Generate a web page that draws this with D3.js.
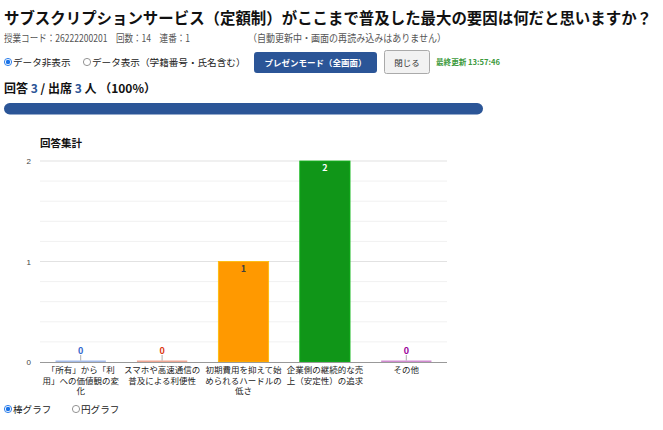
<!DOCTYPE html>
<html lang="ja">
<head>
  <meta charset="UTF-8">
  <title>回答集計</title>
  <script src="https://d3js.org/d3.v7.min.js"></script>
  <style>
    body { margin: 0; background: #fff; }
    svg { display: block; font-family: "Noto Sans CJK JP", "Noto Sans", sans-serif; }
    .grid-minor { stroke: #f1f1f1; stroke-width: 1px; }
    .grid-major { stroke: #e2e2e2; stroke-width: 1.2px; }
    .baseline { stroke: #999; stroke-width: 1px; }
    .ytick { font-size: 8px; fill: #444; text-anchor: end; }
    .xlabel { font-size: 8.5px; fill: #222; text-anchor: middle; }
    .ann { font-size: 9px; font-weight: bold; text-anchor: middle; }
  </style>
</head>
<body>
  <div id="chart"></div>

  <script>
    // data
    const categories = [
      "「所有」から「利\n用」への価値観の変\n化",
      "スマホや高速通信の\n普及による利便性",
      "初期費用を抑えて始\nめられるハードルの\n低さ",
      "企業側の継続的な売\n上（安定性）の追求",
      "その他"
    ];
    const counts = [0, 0, 1, 2, 0];
    const barColors = ["#3366cc", "#dc3912", "#ff9900", "#109618", "#990099"];
    const yTicks = [0, 1, 2];
    const answered = 3, attended = 3;

    const W = 663, H = 430;
    const svg = d3.select("#chart").append("svg")
      .attr("width", W).attr("height", H);

    // ---- header ----
    svg.append("text")
      .attr("x", 4).attr("y", 24)
      .attr("textLength", 648).attr("lengthAdjust", "spacingAndGlyphs")
      .style("font-size", "15.4px").style("font-weight", "bold").attr("fill", "#111")
      .text("サブスクリプションサービス（定額制）がここまで普及した最大の要因は何だと思いますか？");

    svg.append("text")
      .attr("x", 4).attr("y", 42)
      .attr("textLength", 186).attr("lengthAdjust", "spacingAndGlyphs")
      .style("font-size", "10px").attr("fill", "#555")
      .text("授業コード：26222200201　回数：14　連番：1");
    svg.append("text")
      .attr("x", 248).attr("y", 42)
      .attr("textLength", 198).attr("lengthAdjust", "spacingAndGlyphs")
      .style("font-size", "10px").attr("fill", "#555")
      .text("（自動更新中・画面の再読み込みはありません）");

    function radio(x, y, checked, label) {
      svg.append("circle").attr("cx", x).attr("cy", y).attr("r", 3.6)
        .attr("fill", "#fff").attr("stroke", checked ? "#1a73e8" : "#888").attr("stroke-width", 0.9);
      if (checked) svg.append("circle").attr("cx", x).attr("cy", y).attr("r", 2.2).attr("fill", "#1a73e8");
      svg.append("text").attr("x", x + 5).attr("y", y + 3.5)
        .style("font-size", "9.6px").attr("fill", "#222").text(label);
    }
    radio(8, 62, true, "データ非表示");
    radio(87, 62, false, "データ表示（学籍番号・氏名含む）");

    svg.append("rect").attr("x", 254).attr("y", 52).attr("width", 123).attr("height", 21)
      .attr("rx", 3).attr("fill", "#2b5597");
    svg.append("text").attr("x", 315.5).attr("y", 66).attr("text-anchor", "middle")
      .style("font-size", "8.5px").style("font-weight", "bold").attr("fill", "#fff")
      .text("プレゼンモード（全画面）");

    svg.append("rect").attr("x", 384.5).attr("y", 50.5).attr("width", 45).attr("height", 23)
      .attr("rx", 2).attr("fill", "#f2f2f2").attr("stroke", "#aaa");
    svg.append("text").attr("x", 407).attr("y", 66).attr("text-anchor", "middle")
      .style("font-size", "8.5px").attr("fill", "#333").text("閉じる");

    svg.append("text").attr("x", 436).attr("y", 65)
      .style("font-size", "7.6px").style("font-weight", "bold").attr("fill", "#3d9a3d")
      .text("最終更新 13:57:46");

    const ratio = svg.append("text").attr("x", 4).attr("y", 93)
      .style("font-size", "12px").style("font-weight", "bold").attr("fill", "#111");
    ratio.append("tspan").text("回答 ");
    ratio.append("tspan").attr("fill", "#2b5597").text(answered);
    ratio.append("tspan").text(" / 出席 ");
    ratio.append("tspan").attr("fill", "#2b5597").text(attended);
    ratio.append("tspan").text(" 人 （" + Math.round(answered / attended * 100) + "%）");

    const progress = d3.scaleLinear().domain([0, 1]).range([0, 479]);
    svg.append("rect").attr("x", 4).attr("y", 103).attr("height", 11.5)
      .attr("width", progress(answered / attended)).attr("rx", 5.75).attr("fill", "#2b5597");

    // ---- chart ----
    svg.append("text").attr("x", 40).attr("y", 147)
      .style("font-size", "10.5px").style("font-weight", "bold").attr("fill", "#111")
      .text("回答集計");

    const x = d3.scaleBand()
      .domain(d3.range(categories.length))
      .range([40, 447])
      .paddingInner(0.382)
      .paddingOuter(0.191);

    const y = d3.scaleLinear().domain([0, 2]).range([362, 161]);

    const g = svg.append("g");

    // minor gridlines
    g.selectAll(".grid-minor")
      .data(d3.range(0, 2.0001, 0.2).filter(v => Math.abs(v - Math.round(v)) > 1e-6))
      .enter().append("line")
      .attr("class", "grid-minor")
      .attr("x1", 40).attr("x2", 447)
      .attr("y1", d => y(d)).attr("y2", d => y(d));

    g.selectAll(".grid-major")
      .data(yTicks.filter(d => d !== 0))
      .enter().append("line")
      .attr("class", "grid-major")
      .attr("x1", 40).attr("x2", 447)
      .attr("y1", d => y(d)).attr("y2", d => y(d));

    // y axis labels
    const yAxis = d3.axisLeft(y).tickValues(yTicks).tickSize(0).tickPadding(9).tickFormat(d3.format("d"));
    const ya = g.append("g").attr("transform", "translate(40,0)").call(yAxis);
    ya.select(".domain").remove();
    ya.selectAll("text").attr("class", "ytick").attr("dy", "0.32em");

    // bars
    g.selectAll(".bar")
      .data(counts)
      .enter().append("rect")
      .attr("class", "bar")
      .attr("x", (d, i) => x(i))
      .attr("width", x.bandwidth())
      .attr("y", d => d > 0 ? y(d) : y(0) - 1.5)
      .attr("height", d => d > 0 ? y(0) - y(d) : 1.5)
      .attr("fill", (d, i) => barColors[i])
      .attr("fill-opacity", d => d > 0 ? 1 : 0.45)
      .attr("stroke", (d, i) => d > 0 ? d3.color(barColors[i]).brighter(0.6) : "none")
      .attr("stroke-width", 0.8);

    // baseline
    g.append("line").attr("class", "baseline")
      .attr("x1", 40).attr("x2", 447)
      .attr("y1", y(0) + 0.5).attr("y2", y(0) + 0.5);

    // annotations
    counts.forEach((d, i) => {
      const cx = x(i) + x.bandwidth() / 2;
      if (d > 0) {
        g.append("text").attr("class", "ann")
          .attr("x", cx).attr("y", y(d) + 10)
          .attr("fill", d >= 2 ? "#fff" : "#404040")
          .text(d);
      } else {
        g.append("line")
          .attr("x1", cx).attr("x2", cx)
          .attr("y1", y(0) - 7).attr("y2", y(0) - 1.5)
          .attr("stroke", "#999").attr("stroke-width", 0.8);
        g.append("text").attr("class", "ann")
          .attr("x", cx).attr("y", y(0) - 8.5)
          .attr("fill", barColors[i])
          .text(d);
      }
    });

    // x labels
    categories.forEach((c, i) => {
      const t = g.append("text").attr("class", "xlabel")
        .attr("x", x(i) + x.bandwidth() / 2).attr("y", 373);
      c.split("\n").forEach((line, j) => {
        t.append("tspan").attr("x", x(i) + x.bandwidth() / 2)
          .attr("dy", j === 0 ? 0 : 10.6).text(line);
      });
    });

    // ---- chart type radios ----
    radio(8, 409, true, "棒グラフ");
    radio(76, 409, false, "円グラフ");
  </script>
</body>
</html>
